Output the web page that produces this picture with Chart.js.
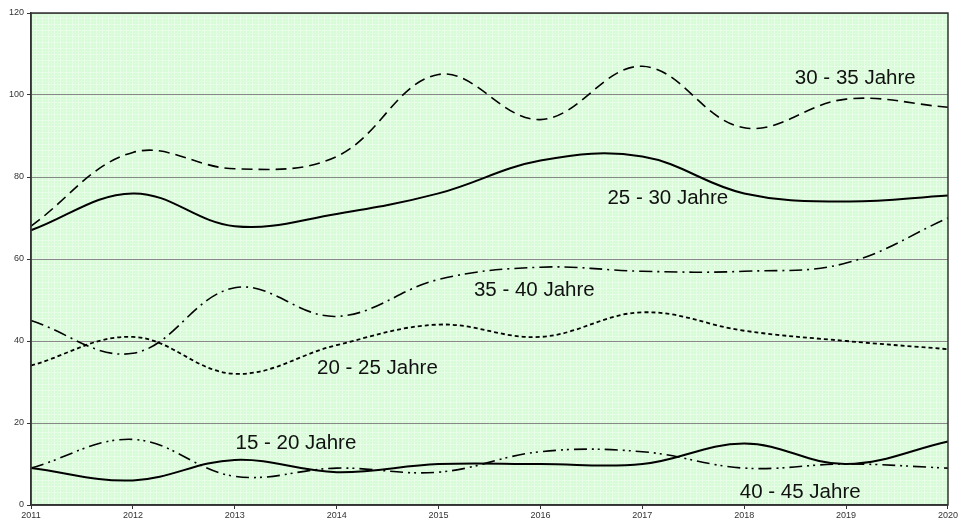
<!DOCTYPE html>
<html>
<head>
<meta charset="utf-8">
<script src="https://cdn.jsdelivr.net/npm/chart.js@4/dist/chart.umd.min.js"></script>
<style>
  html, body { margin: 0; padding: 0; background: #fff; }
  #wrap { width: 959px; height: 524px; }
</style>
</head>
<body>
<div id="wrap"><canvas id="grafico" width="959" height="524"></canvas></div>
<script>
// Jahre (x-Achse)
const jahre = ["2011", "2012", "2013", "2014", "2015", "2016", "2017", "2018", "2019", "2020"];

// Werte je Altersgruppe
const werte15_20 = [9, 6, 11, 8, 10, 10, 10, 15, 10, 15.5];
const werte20_25 = [34, 41, 32, 39, 44, 41, 47, 42.5, 40, 38];
const werte25_30 = [67, 76, 68, 71, 76, 84, 85, 76, 74, 75.5];
const werte30_35 = [68, 86, 82, 85, 105, 94, 107, 92, 99, 97];
const werte35_40 = [45, 37, 53, 46, 55, 58, 57, 57, 59, 70];
const werte40_45 = [9, 16, 7, 9, 8, 13, 13, 9, 10, 9];

// y-Achse
const yTicks = [0, 20, 40, 60, 80, 100, 120];

// Beschriftungen an den Kurven (Index auf der x-Achse, Wert)
const beschriftungen = [
  { text: "30 - 35 Jahre", x: 8.09, y: 104.1 },
  { text: "25 - 30 Jahre", x: 6.25, y: 74.9 },
  { text: "35 - 40 Jahre", x: 4.94, y: 52.4 },
  { text: "20 - 25 Jahre", x: 3.4, y: 33.4 },
  { text: "15 - 20 Jahre", x: 2.6, y: 15.1 },
  { text: "40 - 45 Jahre", x: 7.55, y: 3.2 },
];

function criarPadrao() {
  const c = document.createElement("canvas");
  c.width = 6;
  c.height = 6;
  const g = c.getContext("2d");
  g.fillStyle = "#d6fbd6";
  g.fillRect(0, 0, 6, 6);
  g.fillStyle = "#e9fee9";
  g.fillRect(0, 0, 6, 1);
  g.fillRect(0, 0, 1, 6);
  g.fillRect(3, 3, 1, 1);
  g.fillStyle = "#dffcdf";
  g.fillRect(0, 3, 6, 1);
  g.fillRect(3, 0, 1, 6);
  return g.createPattern(c, "repeat");
}

const fundoPlugin = {
  id: "fundo",
  beforeDraw(chart) {
    const { ctx, chartArea: a } = chart;
    ctx.save();
    ctx.fillStyle = criarPadrao();
    ctx.fillRect(a.left, a.top, a.right - a.left, a.bottom - a.top);
    ctx.restore();
  },
  afterDatasetsDraw(chart) {
    const { ctx, chartArea: a, scales } = chart;
    ctx.save();
    ctx.strokeStyle = "#333";
    ctx.lineWidth = 1.5;
    ctx.strokeRect(a.left, a.top, a.right - a.left, a.bottom - a.top);
    ctx.fillStyle = "#111";
    ctx.font = "20.5px 'Liberation Sans', Arial, sans-serif";
    ctx.textAlign = "center";
    ctx.textBaseline = "middle";
    beschriftungen.forEach(b => {
      ctx.fillText(b.text, scales.x.getPixelForValue(b.x), scales.y.getPixelForValue(b.y));
    });
    ctx.restore();
  }
};

function serie(label, data, dash, width) {
  return {
    label,
    data,
    borderColor: "#000",
    borderWidth: width,
    borderDash: dash,
    pointRadius: 0,
    tension: 0.38,
    fill: false,
  };
}

new Chart(document.getElementById("grafico"), {
  type: "line",
  data: {
    labels: jahre,
    datasets: [
      serie("15 - 20 Jahre", werte15_20, [], 2),
      serie("20 - 25 Jahre", werte20_25, [4, 3], 1.8),
      serie("25 - 30 Jahre", werte25_30, [], 2),
      serie("30 - 35 Jahre", werte30_35, [11, 6], 1.6),
      serie("35 - 40 Jahre", werte35_40, [13, 5, 2, 5], 1.6),
      serie("40 - 45 Jahre", werte40_45, [13, 5, 2, 4, 2, 5], 1.6),
    ]
  },
  options: {
    responsive: false,
    animation: false,
    layout: { padding: { top: 13, right: 10, left: 0, bottom: 0 } },
    plugins: {
      legend: { display: false },
      tooltip: { enabled: false }
    },
    scales: {
      x: {
        offset: false,
        grid: { drawOnChartArea: false, color: "#333", tickLength: 4 },
        border: { color: "#333", width: 1.5 },
        ticks: {
          color: "#333",
          font: { size: 9, family: "'Liberation Sans', Arial, sans-serif" },
          padding: 1,
          maxRotation: 0,
          autoSkip: false
        },
        afterFit(scale) { scale.height = 19; }
      },
      y: {
        min: 0,
        max: 120,
        afterBuildTicks(scale) { scale.ticks = yTicks.map(v => ({ value: v })); },
        grid: { color: "#888", lineWidth: 1, tickLength: 4, tickColor: "#333" },
        border: { color: "#333", width: 1.5 },
        ticks: {
          color: "#333",
          font: { size: 9, family: "'Liberation Sans', Arial, sans-serif" },
          padding: 3
        },
        afterFit(scale) { scale.width = 31; }
      }
    }
  },
  plugins: [fundoPlugin]
});
</script>
</body>
</html>
